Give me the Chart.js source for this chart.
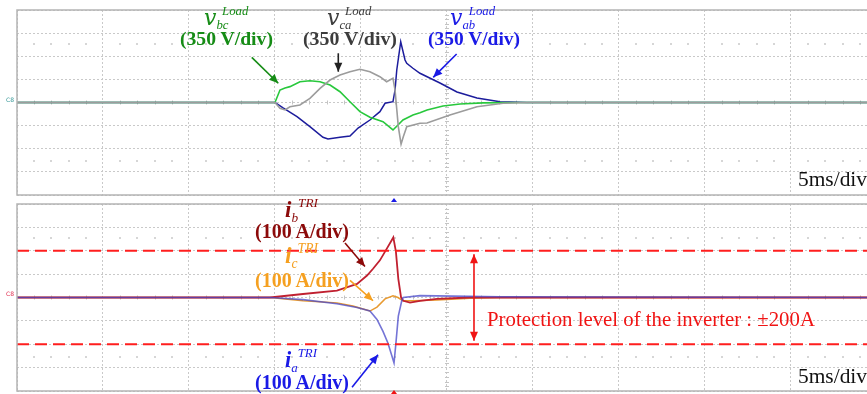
<!DOCTYPE html>
<html><head><meta charset="utf-8">
<script src="https://cdn.jsdelivr.net/npm/chart.js@4"></script>
<style>
body{margin:0;background:#fff}
#stage{position:relative;width:867px;height:394px;overflow:hidden;background:#fff}
#stage canvas{position:absolute;left:0}
.lbl{position:absolute;white-space:nowrap;font-family:'Liberation Serif','Times New Roman',serif;line-height:1}
.lbl sub,.lbl sup{font-size:.58em;line-height:0}
.lbl sub{vertical-align:-.35em}
.lbl sup{vertical-align:.75em}
.lbl .sym{font-family:'DejaVu Serif',serif;font-style:italic}
.bl{display:inline-block;width:0;height:0;vertical-align:baseline}
.c8{position:absolute;left:6px;font:6px 'DejaVu Sans',sans-serif;line-height:6px}
</style></head><body>
<div id="stage">
  <canvas id="volts" width="867" height="203" style="top:0"></canvas>
  <canvas id="amps" width="867" height="191" style="top:203px"></canvas>
  <div class="c8" style="top:97px;color:#3a9a9a">C8</div>
  <div class="c8" style="top:291px;color:#e03050">C8</div>
</div>
<script>
// time base: 5 ms/div, screen shows 9.88 div
const timeMax=49.42, msPerDiv=5;
const voltsPerDiv=350, ampsPerDiv=100;

// load line voltages (ms / V)
const vbcTime=[0,15.0,15.29,15.58,15.87,16.45,17.03,17.62,18.20,18.78,19.36,19.94,20.52,21.28,21.86,22.15,22.44,23.02,23.43,23.84,24.77,25.76,27.09,29.24,timeMax];
const vbcVolts=[0,0,189,220,240,315,330,315,265,163,12,-139,-224,-290,-416,-341,-265,-189,-155,-114,-53,-23,-5,0,0];
const vcaTime=[0,15.0,15.29,15.58,15.87,16.45,17.03,17.62,18.20,18.78,19.36,19.94,20.52,21.10,21.49,21.86,21.98,22.17,22.33,22.46,22.66,23.43,23.84,25.17,26.74,28.26,29.8,timeMax];
const vcaVolts=[0,0,-88,-113,-64,-38,63,214,340,416,466,503,466,391,315,366,189,-366,-630,-517,-366,-315,-311,-189,-64,-12,0,0];
const vabTime=[0,15.0,15.47,16.28,17.03,17.79,18.08,18.78,19.36,19.83,20.52,21.10,21.40,21.86,21.98,22.08,22.31,22.56,22.66,23.02,23.43,24.59,25.58,26.74,28.08,29.65,timeMax];
const vabVolts=[0,0,-83,-215,-366,-527,-553,-527,-507,-386,-265,-139,-12,12,189,492,920,643,593,518,442,295,159,68,12,0,0];

// transformer currents (ms / A)
const icTime=[0,14.71,16.63,18.60,19.53,20.52,20.93,21.40,21.86,22.15,22.44,23.02,24.42,26.34,28.08,timeMax];
const icAmps=[0,0,-14,-23,-36,-58,-41,-6,7,0,-14,-14,-11,-3,0,0];
const ibTime=[0,14.71,16.63,18.60,19.77,20.35,20.70,21.10,21.51,21.88,22.03,22.17,22.33,22.46,22.85,23.43,24.42,26.34,timeMax];
const ibAmps=[0,0,15,29,58,94,123,159,210,257,196,80,0,-14,-22,-14,-6,0,0];
const iaTime=[0,14.71,16.63,18.60,19.77,20.52,20.93,21.28,21.57,21.78,21.92,22.03,22.17,22.37,22.46,23.43,25.35,28.08,timeMax];
const iaAmps=[0,0,-9,-27,-43,-58,-94,-145,-196,-246,-280,-196,-80,-14,0,8,6,3,0];
const protectionAmps=200;
const triggerTime=21.92;

// annotation arrows in data units
const voltArrows=[
  {from:[13.65,684],to:[15.19,291],color:'#168c16'},
  {from:[18.68,745],to:[18.68,466],color:'#222'},
  {from:[25.56,734],to:[24.20,381],color:'#1a1ae6'}
];
const ampArrows=[
  {from:[19.07,233],to:[20.23,133],color:'#8c0a0a'},
  {from:[19.36,73],to:[20.70,-14],color:'#f5a020'},
  {from:[19.48,-384],to:[20.99,-245],color:'#1a1ae6'},
  {from:[26.57,-185],to:[26.57,185],color:'#f01414',both:true}
];

const labels=[
  {html:'<span class="sym">v</span><sub><i>bc</i></sub><sup style="margin-left:-.5em"><i>Load</i></sup>',x:204,base:25,size:22,color:'#168c16'},
  {html:'<span class="sym">v</span><sub><i>ca</i></sub><sup style="margin-left:-.5em"><i>Load</i></sup>',x:327,base:25,size:22,color:'#3c3c3c'},
  {html:'<span class="sym">v</span><sub><i>ab</i></sub><sup style="margin-left:-.5em"><i>Load</i></sup>',x:450,base:25,size:22,color:'#1a1ae6'},
  {html:'(350 V/div)',x:180,base:45,w:93,color:'#168c16',bold:true},
  {html:'(350 V/div)',x:303,base:45,w:94,color:'#3c3c3c',bold:true},
  {html:'(350 V/div)',x:428,base:45,w:92,color:'#1a1ae6',bold:true},
  {html:'5ms/div',x:798,base:186,w:69,color:'#111'},
  {html:'<b><i>i</i></b><sub><i>b</i></sub><sup><i>TRI</i></sup>',x:285,base:217,w:33,color:'#8c0a0a'},
  {html:'(100 A/div)',x:255,base:238,w:94,color:'#8c0a0a',bold:true},
  {html:'<b><i>i</i></b><sub><i>c</i></sub><sup><i>TRI</i></sup>',x:285,base:263,w:33,color:'#f5a020'},
  {html:'(100 A/div)',x:255,base:287,w:94,color:'#f5a020',bold:true},
  {html:'<b><i>i</i></b><sub><i>a</i></sub><sup><i>TRI</i></sup>',x:285,base:367,w:32,color:'#1a1ae6'},
  {html:'(100 A/div)',x:255,base:389,w:94,color:'#1a1ae6',bold:true},
  {html:'Protection level of the inverter : ±200A',x:487,base:326,w:328,color:'#f01414'},
  {html:'5ms/div',x:798,base:383,w:69,color:'#111'}
];

function series(times,values,color,width){
  return {data:times.map((t,i)=>({x:t,y:values[i]})),borderColor:color,borderWidth:width,pointRadius:0,tension:0,fill:false};
}

function arrowHead(ctx,x0,y0,x1,y1){
  const a=Math.atan2(y1-y0,x1-x0),L=9,W=4;
  ctx.beginPath();
  ctx.moveTo(x1,y1);
  ctx.lineTo(x1-L*Math.cos(a)+W*Math.sin(a),y1-L*Math.sin(a)-W*Math.cos(a));
  ctx.lineTo(x1-L*Math.cos(a)-W*Math.sin(a),y1-L*Math.sin(a)+W*Math.cos(a));
  ctx.closePath();ctx.fill();
}

const scopePlugin={
  id:'scope',
  beforeDatasetsDraw(chart,args,opts){
    const {ctx,scales:{x,y}}=chart;
    const y0=y.getPixelForValue(0),xc=x.getPixelForValue(5*msPerDiv);
    ctx.save();
    ctx.strokeStyle='#c4c4c4';ctx.lineWidth=1;
    ctx.beginPath();
    for(let t=1;t<timeMax;t++){
      if(t%msPerDiv===0) continue;
      const px=Math.round(x.getPixelForValue(t))+.5;
      ctx.moveTo(px,y0-2);ctx.lineTo(px,y0+2);
    }
    for(let d=-20;d<=20;d++){
      if(d%5===0) continue;
      const py=Math.round(y.getPixelForValue(d*opts.perDiv/5))+.5;
      ctx.moveTo(xc-2,py);ctx.lineTo(xc+2,py);
    }
    ctx.stroke();
    ctx.fillStyle='#d6d6d6';
    [2.55,-2.55].forEach(k=>{
      const py=Math.round(y.getPixelForValue(k*opts.perDiv));
      for(let t=1;t<timeMax;t++){
        if(t%msPerDiv===0) continue;
        ctx.fillRect(Math.round(x.getPixelForValue(t))-1,py-1,2,2);
      }
    });
    ctx.restore();
  },
  afterDatasetsDraw(chart,args,opts){
    const {ctx,chartArea:ca,scales:{x,y}}=chart;
    ctx.save();
    ctx.strokeStyle='#b4b4b4';ctx.lineWidth=1.5;
    ctx.beginPath();
    ctx.moveTo(ca.right,ca.top);ctx.lineTo(ca.left,ca.top);ctx.lineTo(ca.left,ca.bottom);ctx.lineTo(ca.right,ca.bottom);
    ctx.stroke();
    opts.arrows.forEach(a=>{
      const x0=x.getPixelForValue(a.from[0]),y0=y.getPixelForValue(a.from[1]);
      const x1=x.getPixelForValue(a.to[0]),y1=y.getPixelForValue(a.to[1]);
      ctx.strokeStyle=a.color;ctx.fillStyle=a.color;ctx.lineWidth=1.6;
      ctx.beginPath();ctx.moveTo(x0,y0);ctx.lineTo(x1,y1);ctx.stroke();
      arrowHead(ctx,x0,y0,x1,y1);
      if(a.both) arrowHead(ctx,x1,y1,x0,y0);
    });
    const tx=x.getPixelForValue(triggerTime),ty=opts.trigY;
    ctx.fillStyle=opts.trigColor;
    ctx.beginPath();ctx.moveTo(tx,ty);ctx.lineTo(tx-3,ty+4);ctx.lineTo(tx+3,ty+4);ctx.closePath();ctx.fill();
    ctx.restore();
  }
};

function scopeOptions(perDiv,pad,arrows,trigY,trigColor){
  const grid={color:'#c9c9c9',lineWidth:1,drawTicks:false};
  const border={display:false,dash:[2,2]};
  return {
    responsive:false,animation:false,
    layout:{padding:pad},
    plugins:{legend:{display:false},tooltip:{enabled:false},
      scope:{perDiv,arrows,trigY,trigColor}},
    scales:{
      x:{type:'linear',min:0,max:timeMax,ticks:{display:false,stepSize:msPerDiv},grid,border},
      y:{min:-4*perDiv,max:4*perDiv,ticks:{display:false,stepSize:perDiv},grid,border}
    }
  };
}

// Chart.js paints dataset 0 on top, so the list runs top-most first
new Chart(document.getElementById('volts'),{
  type:'line',
  data:{datasets:[
    series(vcaTime,vcaVolts,'#9c9c9c',1.6),
    series(vbcTime,vbcVolts,'#28c83c',1.6),
    series(vabTime,vabVolts,'#1c1c9c',1.5)
  ]},
  options:scopeOptions(voltsPerDiv,{left:17,top:10,right:0,bottom:8},voltArrows,198,'#1a1ae6'),
  plugins:[scopePlugin]
});

const limit=v=>({data:[{x:0,y:v},{x:timeMax,y:v}],borderColor:'#ff1e1e',borderWidth:2,borderDash:[12,6],pointRadius:0});
new Chart(document.getElementById('amps'),{
  type:'line',
  data:{datasets:[
    limit(protectionAmps),limit(-protectionAmps),
    series(iaTime,iaAmps,'rgba(70,70,200,0.75)',1.6),
    series(ibTime,ibAmps,'#c02030',1.8),
    series(icTime,icAmps,'#e89a30',1.5)
  ]},
  options:scopeOptions(ampsPerDiv,{left:17,top:1,right:0,bottom:3},ampArrows,187,'#f01414'),
  plugins:[scopePlugin]
});

const stage=document.getElementById('stage');
labels.forEach(l=>{
  const el=document.createElement('div');
  el.className='lbl';
  el.style.color=l.color;
  el.style.fontWeight=l.bold?'bold':'normal';
  el.innerHTML=l.html+'<i class="bl"></i>';
  el.style.left=l.x+'px';el.style.top='0px';
  el.style.fontSize=(l.size||20)+'px';
  stage.appendChild(el);
  if(l.w){
    const size=20*l.w/el.getBoundingClientRect().width;
    el.style.fontSize=size.toFixed(2)+'px';
  }
  const b=el.querySelector('.bl').getBoundingClientRect().top-el.getBoundingClientRect().top;
  el.style.top=(l.base-b)+'px';
});
</script>
</body></html>
